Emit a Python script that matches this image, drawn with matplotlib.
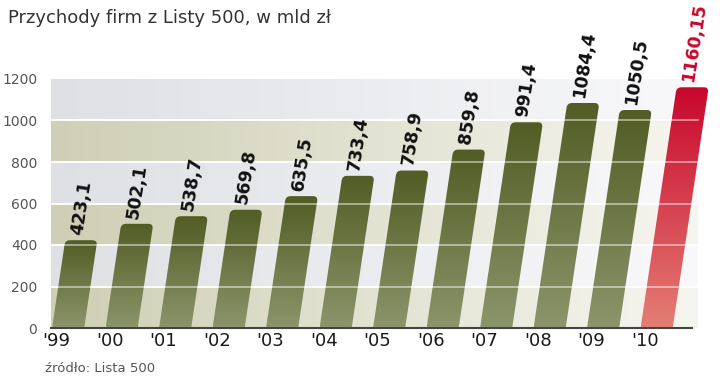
import numpy as np
import matplotlib
matplotlib.use('Agg')
import matplotlib.pyplot as plt
from matplotlib.path import Path
from matplotlib.patches import PathPatch
from matplotlib.colors import LinearSegmentedColormap

# data
years = ["'99", "'00", "'01", "'02", "'03", "'04", "'05", "'06", "'07", "'08", "'09", "'10"]
revenue = [423.1, 502.1, 538.7, 569.8, 635.5, 733.4, 758.9, 859.8, 991.4, 1084.4, 1050.5, 1160.15]
labels = ["423,1", "502,1", "538,7", "569,8", "635,5", "733,4", "758,9", "859,8",
          "991,4", "1084,4", "1050,5", "1160,15"]
yticks = [0, 200, 400, 600, 800, 1000, 1200]

W, SHEAR = 0.6, 0.00058
RX, RY = 0.09, 23
LABEL_FONT = ['DejaVu Sans Condensed', 'Liberation Sans Narrow', 'DejaVu Sans']

olive = LinearSegmentedColormap.from_list('olive', ['#8c956b', '#525c24'])
red = LinearSegmentedColormap.from_list('red', ['#e47e74', '#c8072d'])


def bar_path(x0, v):
    """slanted bar with rounded top corners"""
    tl = x0 + SHEAR * v
    tr = tl + W
    verts = [(x0, 0), (x0 + W, 0),
             (x0 + W + SHEAR * (v - RY), v - RY), (tr, v), (tr - RX, v),
             (tl + RX, v), (tl, v), (x0 + SHEAR * (v - RY), v - RY),
             (x0, 0)]
    codes = [Path.MOVETO, Path.LINETO,
             Path.LINETO, Path.CURVE3, Path.CURVE3,
             Path.LINETO, Path.CURVE3, Path.CURVE3,
             Path.CLOSEPOLY]
    return Path(verts, codes)


fig = plt.figure(figsize=(7.2, 3.82), dpi=100)
ax = fig.add_axes([51 / 720, 54 / 382, 661 / 720, 249 / 382])
xlim = (-0.32, 12.035)
band_right = 11.77

# background bands with horizontal fade
beige = LinearSegmentedColormap.from_list('beige', ['#cecfb4', '#f6f6f0'])
grey = LinearSegmentedColormap.from_list('grey', ['#dee0e4', '#f9f9fb'])
grad = np.linspace(0, 1, 256).reshape(1, -1)
for k in range(6):
    cmap = beige if k % 2 == 0 else grey
    ax.imshow(grad, cmap=cmap, aspect='auto', zorder=0,
              extent=[xlim[0], band_right, k * 200, (k + 1) * 200])

vgrad = np.linspace(0, 1, 256).reshape(-1, 1)
for i, v in enumerate(revenue):
    x0 = i - W / 2
    last = i == len(revenue) - 1
    patch = PathPatch(bar_path(x0, v), facecolor='none', edgecolor='none', zorder=2)
    ax.add_patch(patch)
    im = ax.imshow(vgrad, cmap=red if last else olive, aspect='auto',
                   origin='lower', zorder=2,
                   extent=[x0, x0 + W + SHEAR * v, 0, v])
    im.set_clip_path(patch)
    ax.annotate(labels[i], (x0 + SHEAR * v + W / 2 - 0.08, v),
                xytext=(0, 4), textcoords='offset points',
                rotation=81, rotation_mode='anchor', ha='left', va='center',
                fontsize=12.5, fontweight='bold',
                color='#c8072d' if last else '#111111',
                family=LABEL_FONT, annotation_clip=False, zorder=4)

# white grid lines: solid on the background, softer over the bars
for y in yticks[1:-1]:
    ax.plot([xlim[0], band_right], [y, y], color='white', lw=1.3, zorder=1)
    ax.plot([xlim[0], band_right], [y, y], color='white', lw=1.1, alpha=0.6, zorder=3)
ax.plot([xlim[0], 11.66], [0, 0], color='#444444', lw=1.5, zorder=3, clip_on=False)

ax.set_xlim(*xlim)
ax.set_ylim(0, 1200)
for s in ax.spines.values():
    s.set_visible(False)
ax.set_xticks([i - 0.22 for i in range(len(years))])
ax.set_xticklabels(years, fontsize=13, color='#1a1a1a')
ax.set_yticks(yticks)
ax.set_yticklabels([str(t) for t in yticks], fontsize=10, color='#555555')
ax.tick_params(length=0, axis='x', pad=3)
ax.tick_params(length=0, axis='y', pad=10)

fig.text(8 / 720, 1 - 18 / 382, 'Przychody firm z Listy 500, w mld zł',
         fontsize=13, color='#333333', va='center', ha='left')
fig.text(45 / 720, 1 - 369 / 382, 'źródło: Lista 500',
         fontsize=9.5, color='#555555', va='center', ha='left')

fig.savefig('out.png', dpi=100)
